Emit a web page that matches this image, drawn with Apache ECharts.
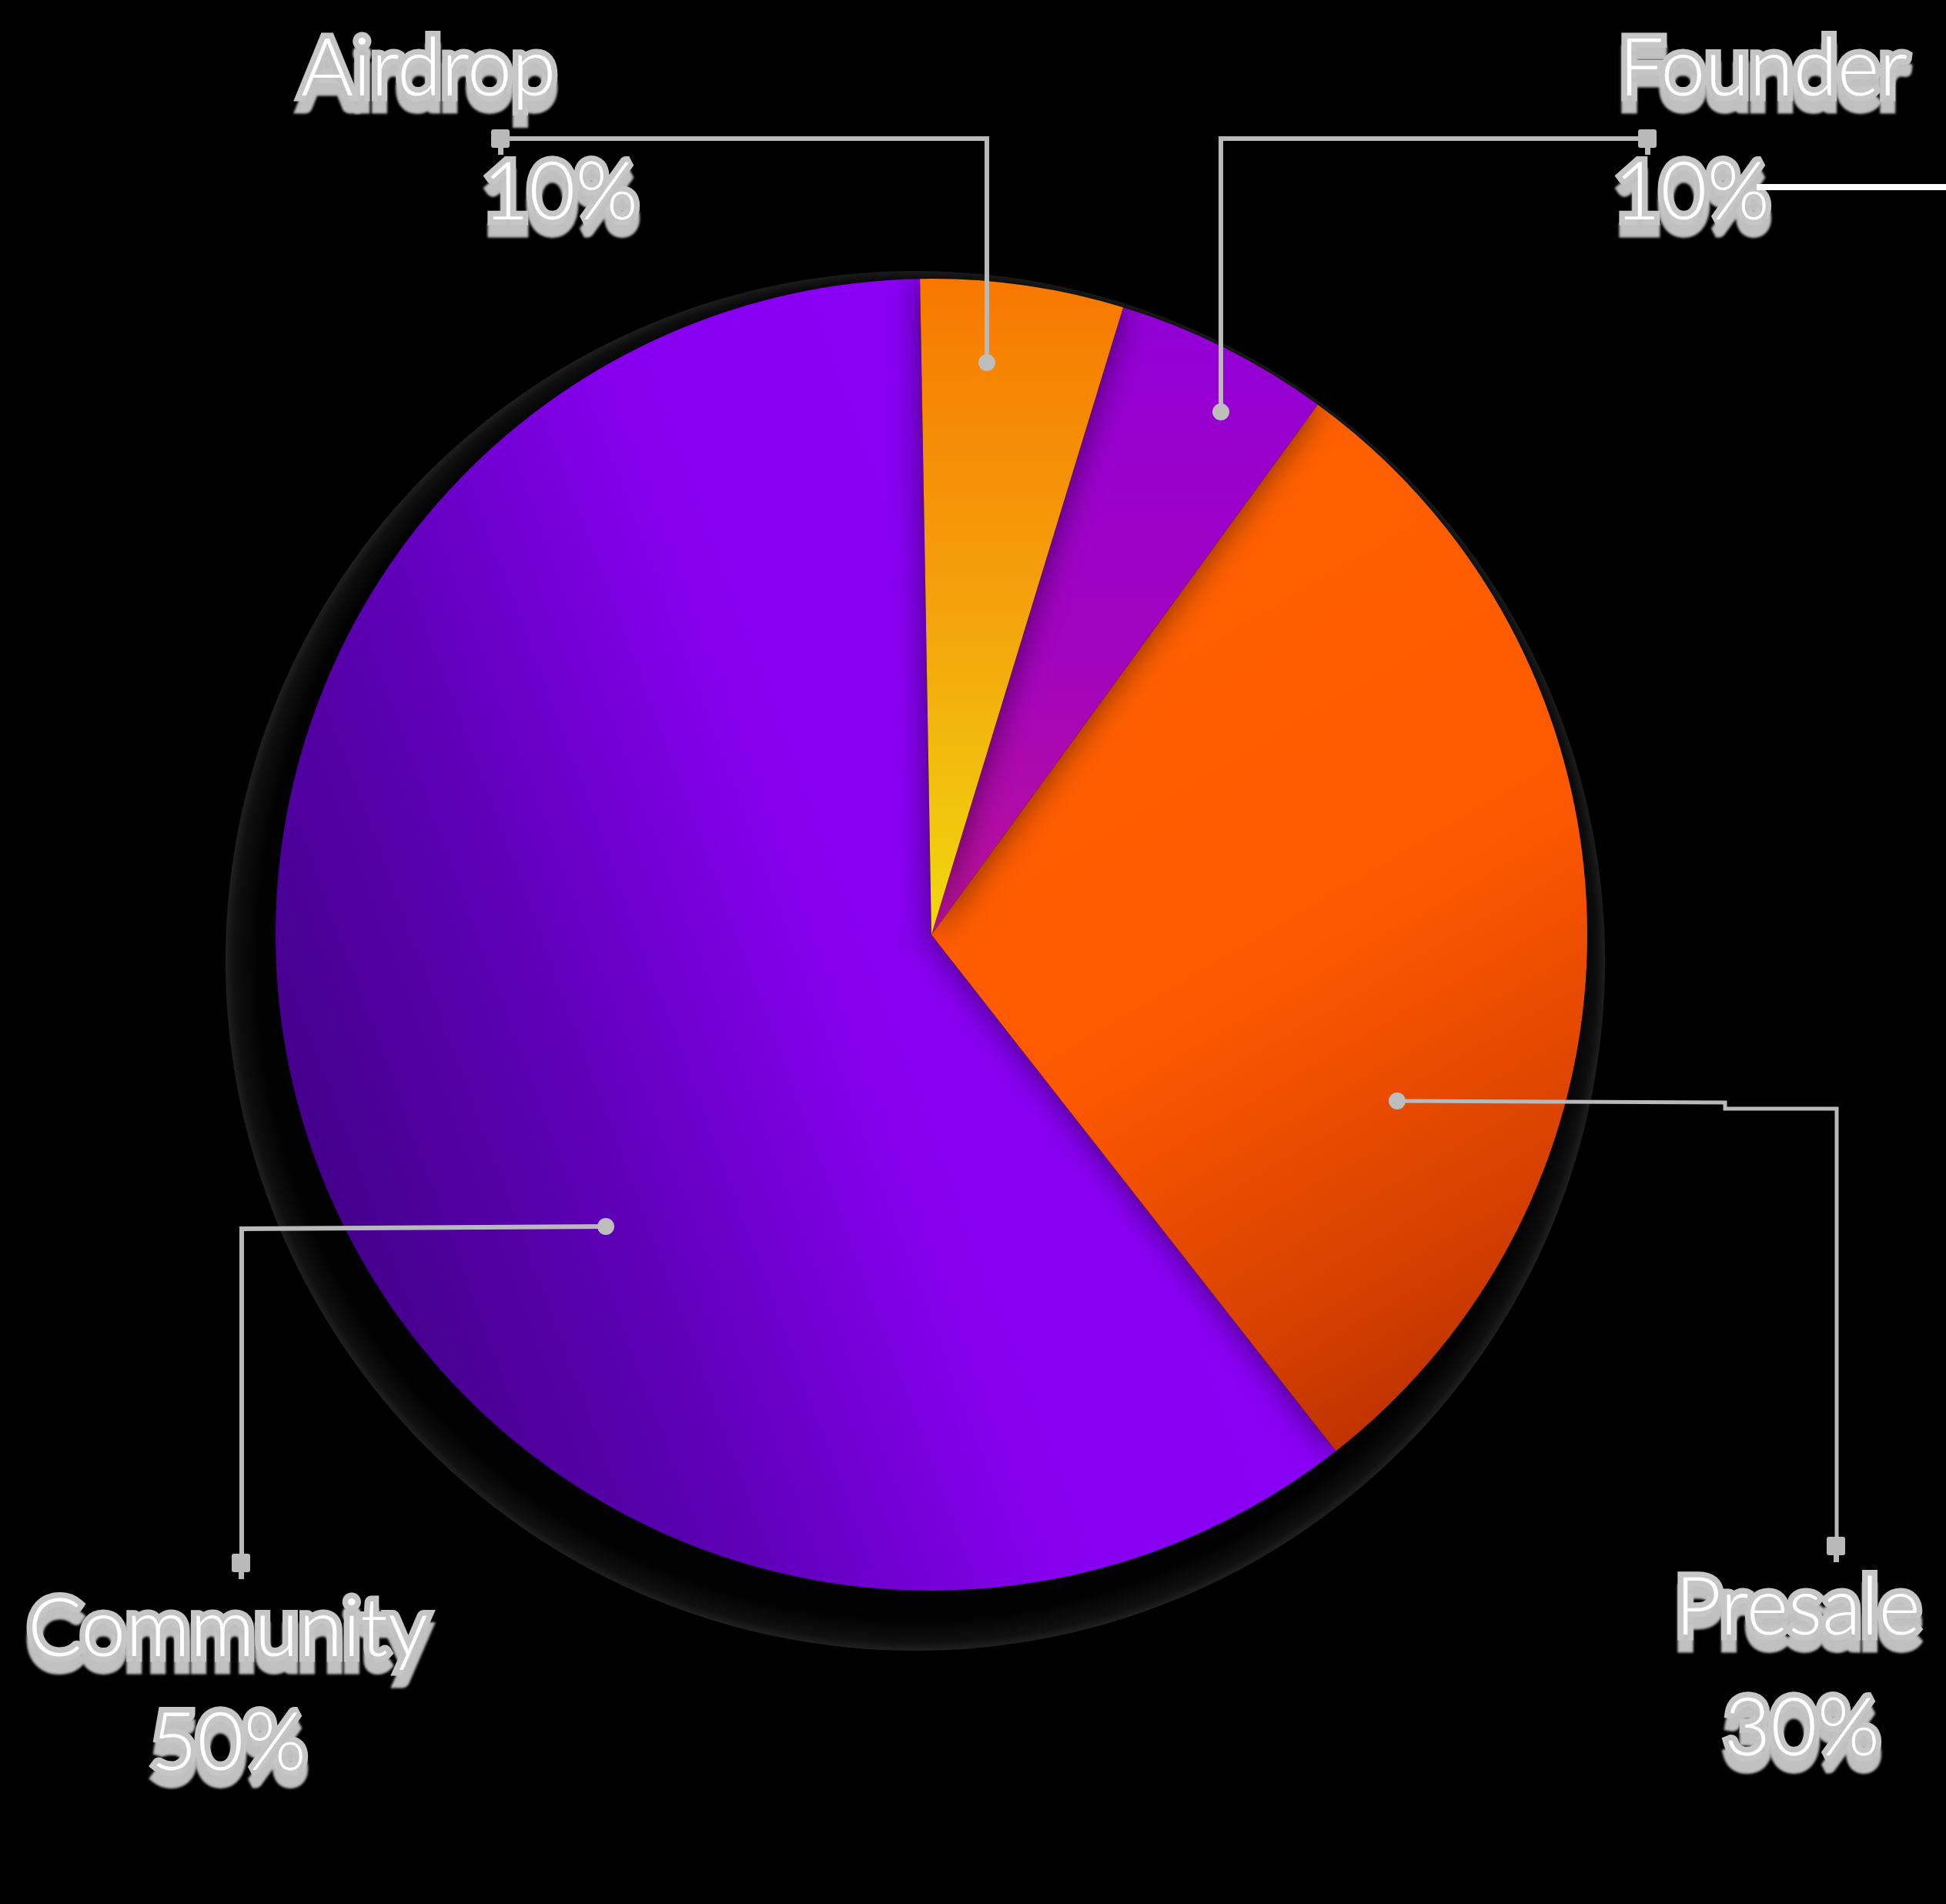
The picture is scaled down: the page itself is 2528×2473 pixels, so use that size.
<!DOCTYPE html>
<html>
<head>
<meta charset="utf-8">
<script src="https://cdn.jsdelivr.net/npm/echarts@6/dist/echarts.min.js"></script>
<style>
html,body{margin:0;padding:0;background:#000;}
#chart{width:2528px;height:2473px;}
</style>
</head>
<body>
<div id="chart"></div>
<script>
// ---- data ----
const names = ['Community', 'Presale', 'Founder', 'Airdrop'];
const shares = [60.3, 29.4, 5.3, 5.0];            // slice sizes as drawn
const pctLabels = ['50%', '30%', '10%', '10%'];   // percentage texts printed on the chart

// ---- styles / layout ----
const gradients = [
  { dir: [0, 0.62, 0.8, 0.38], stops: [[0, '#44008a'], [0.3, '#5d00b6'], [0.62, '#8600ee'], [1, '#8a00f6']] },
  { dir: [0.25, 0.2, 1, 1], stops: [[0, '#ff6000'], [0.4, '#ff5900'], [0.75, '#d43f00'], [1, '#aa2400']] },
  { dir: [0, 0, 0, 1], stops: [[0, '#9200d8'], [0.55, '#a203be'], [1, '#bc1196']] },
  { dir: [0, 0, 0, 1], stops: [[0, '#f77800'], [0.5, '#f4a20c'], [1, '#f0d90f']] }
];
const labelPos = [[36, 2043], [2176, 2011], [2097, 10], [391, 10]];
const labelLineH = [148, 157, 161, 161];
const pctIndent = [160, 64, 0, 236];
const nameIndent = [0, 0, 6, 0];

const chart = echarts.init(document.getElementById('chart'), null, { renderer: 'canvas' });

function grad(g) {
  return new echarts.graphic.LinearGradient(g.dir[0], g.dir[1], g.dir[2], g.dir[3],
    g.stops.map(s => ({ offset: s[0], color: s[1] })));
}

const baseText = {
  fontFamily: 'Lato',
  fontWeight: 300,
  fontSize: 104,
  color: '#ffffff',
  textBorderColor: '#c6c6c6',
  textBorderWidth: 15,
  textShadowColor: '#c0c0c0',
  textShadowBlur: 3,
  textShadowOffsetY: 16
};

const data = names.map((n, i) => ({
  name: n,
  value: shares[i],
  itemStyle: { color: grad(gradients[i]) },
  label: {
    formatter: '{n|' + n + '}\n{p|' + pctLabels[i] + '}',
    rich: {
      n: Object.assign({}, baseText, { lineHeight: labelLineH[i], padding: [0, 0, 0, nameIndent[i]] }),
      p: Object.assign({}, baseText, { lineHeight: labelLineH[i], padding: [0, 0, 0, pctIndent[i]] })
    }
  }
}));

const lineColor = '#b9b9b9';
function poly(points, w) {
  return { type: 'polyline', z: 50, silent: true, shape: { points: points },
    style: { stroke: lineColor, lineWidth: w, fill: null, lineJoin: 'miter' } };
}
function dot(x, y) {
  return { type: 'circle', z: 51, silent: true, shape: { cx: x, cy: y, r: 11 }, style: { fill: '#bdbdbd' } };
}
function marker(x, y) {
  return [
    { type: 'rect', z: 51, silent: true, shape: { x: x - 12, y: y - 12, width: 24, height: 24, r: 3 }, style: { fill: lineColor } },
    { type: 'rect', z: 51, silent: true, shape: { x: x - 3, y: y + 12, width: 7, height: 9 }, style: { fill: lineColor } }
  ];
}

const graphics = [
  {
    type: 'circle', z: 0, silent: true,
    shape: { cx: 1189, cy: 1248, r: 896 },
    style: {
      fill: new echarts.graphic.RadialGradient(0.5, 0.5, 0.5, [
        { offset: 0, color: '#000000' },
        { offset: 0.955, color: '#020202' },
        { offset: 0.988, color: '#101010' },
        { offset: 1, color: '#202020' }
      ])
    }
  },
  // Airdrop leader
  poly([[1282, 471], [1282, 180], [650, 180]], 6),
  dot(1282, 471), ...marker(650, 180),
  // Founder leader
  poly([[1586, 535], [1586, 180], [2140, 180]], 6),
  dot(1586, 535), ...marker(2140, 180),
  // Presale leader
  poly([[1815, 1430], [2241, 1432], [2241, 1440], [2386, 1440], [2386, 2008]], 5),
  dot(1815, 1430), ...marker(2385, 2008),
  // Community leader
  poly([[787, 1593], [314, 1596], [314, 2030]], 6),
  dot(787, 1593), ...marker(313, 2030),
  // stray white rule next to Founder 10%
  { type: 'line', z: 50, silent: true, shape: { x1: 2282, y1: 243, x2: 2528, y2: 243 }, style: { stroke: '#ffffff', lineWidth: 8 } }
];

chart.setOption({
  backgroundColor: '#000000',
  animation: false,
  graphic: graphics,
  series: [{
    type: 'pie',
    center: [1210, 1214],
    radius: [0, 852],
    startAngle: 91,
    clockwise: false,
    avoidLabelOverlap: false,
    silent: true,
    emphasis: { disabled: true },
    itemStyle: {
      shadowBlur: 42,
      shadowColor: 'rgba(0,0,0,0.55)'
    },
    label: { show: true, position: 'outside' },
    labelLine: { show: false },
    labelLayout: function (p) {
      const i = p.dataIndex;
      return { x: labelPos[i][0], y: labelPos[i][1], align: 'left', verticalAlign: 'top' };
    },
    data: data
  }]
});
</script>
</body>
</html>
